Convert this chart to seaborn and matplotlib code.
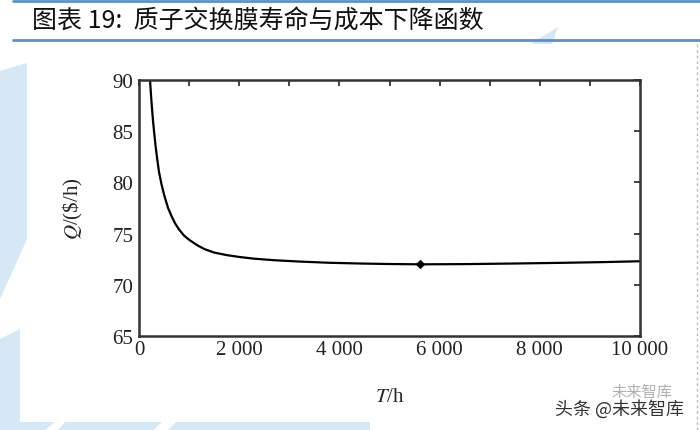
"""
图表 19: 质子交换膜寿命与成本下降函数
"""

import numpy as np
import pandas as pd
import matplotlib
matplotlib.use("Agg")
import matplotlib.pyplot as plt
from matplotlib.patches import Polygon
import seaborn as sns

# valeurs
life_h = [220, 240, 260, 280, 300, 330, 360, 400, 450, 500, 580, 650, 720,
          800, 900, 1000, 1150, 1300, 1500, 1750, 2000, 2300, 2700, 3200,
          3800, 4500, 5000, 5600, 6500, 7500, 8500, 9300, 10000]
cost_per_h = [90.0, 88.5, 87.2, 86.0, 85.0, 83.6, 82.4, 81.0, 79.8, 78.8,
              77.5, 76.7, 76.0, 75.4, 74.8, 74.4, 73.9, 73.5, 73.15, 72.9,
              72.72, 72.55, 72.4, 72.27, 72.15, 72.07, 72.03, 72.0, 72.02,
              72.08, 72.15, 72.22, 72.3]
optimum_h = [5600]
optimum_cost = [72.0]

x_ticks = [0, 2000, 4000, 6000, 8000, 10000]
x_tick_labels = ['0', '2 000', '4 000', '6 000', '8 000', '10 000']
y_ticks = [65, 70, 75, 80, 85, 90]

title = '图表 19:  质子交换膜寿命与成本下降函数'
watermark = '头条 @未来智库'

sns.set_style('white')
plt.rcParams['font.family'] = ['Liberation Serif', 'Noto Sans CJK SC', 'DejaVu Sans']
plt.rcParams['mathtext.fontset'] = 'stix'

W, H = 700, 431
fig = plt.figure(figsize=(W / 100, H / 100), dpi=100)

# fond décoratif (repère en pixels)
bg = fig.add_axes([0, 0, 1, 1], zorder=0)
bg.set_xlim(0, W)
bg.set_ylim(H, 0)
bg.axis('off')
light = '#d6e8f6'
bg.add_patch(Polygon([(0, 72), (27, 64), (27, 240), (0, 300)], color=light, lw=0))
bg.add_patch(Polygon([(0, 340), (20, 330), (20, 431), (0, 431)], color=light, lw=0))
bg.add_patch(Polygon([(20, 423), (55, 423), (45, 431), (20, 431)], color=light, lw=0))
bg.add_patch(Polygon([(65, 423), (162, 423), (154, 431), (58, 431)], color=light, lw=0))
bg.add_patch(Polygon([(176, 423), (370, 423), (370, 431), (168, 431)], color=light, lw=0))
bg.add_patch(Polygon([(530, 45), (558, 28), (552, 45)], color=light, lw=0))
bg.plot([13, 700], [2, 2], color='#5b8fd0', lw=2)
bg.plot([13, 700], [41, 41], color='#5b8fd0', lw=2)
bg.plot([697, 697], [45, 431], color='#bbbbbb', lw=1, ls=(0, (2, 2)))
bg.text(32, 22, title, fontsize=18, va='center', ha='left', color='#111111',
        family=['Noto Sans CJK SC', 'DejaVu Sans'])
bg.text(612, 392, '未来智库', fontsize=11, va='center', ha='left',
        color='#b0b0b0', family=['Noto Sans CJK SC'])
bg.text(555, 409, watermark, fontsize=13, va='center', ha='left',
        color='#333333', family=['Noto Sans CJK SC', 'DejaVu Sans'])

# graphique principal
ax = fig.add_axes([139 / W, 1 - 337 / H, 501 / W, 256 / H], zorder=1)
ax.patch.set_alpha(0)
df = pd.DataFrame({'T': life_h, 'Q': cost_per_h})
sns.lineplot(data=df, x='T', y='Q', ax=ax, color='black', lw=1.6)
sns.scatterplot(x=optimum_h, y=optimum_cost, ax=ax, color='black',
                marker='D', s=20, edgecolor='black', zorder=3)

ax.set_xlim(0, 10000)
ax.set_ylim(65, 90)
ax.set_xticks(x_ticks, x_tick_labels)
ax.set_xticks(np.arange(1000, 10000, 2000), minor=True)
ax.set_yticks(y_ticks)
ax.tick_params(which='both', direction='in', top=True, right=True,
               length=4, width=1.2, labelsize=15, colors='#222222')
ax.tick_params(axis='y', pad=4)
ax.tick_params(axis='x', pad=3)
for s in ax.spines.values():
    s.set_linewidth(1.8)
    s.set_color('#333333')
ax.set_xlabel(r'$T$/h', fontsize=15, labelpad=20)
ax.set_ylabel(r'$Q$/(\$/h)', fontsize=15, labelpad=20)

fig.savefig('out.png', dpi=100)
